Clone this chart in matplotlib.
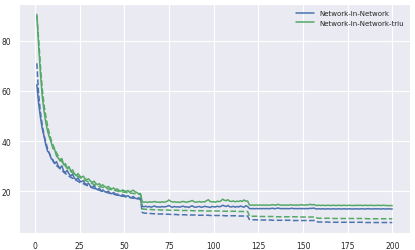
import numpy as np
import matplotlib
matplotlib.use("Agg")
import matplotlib.pyplot as plt
import seaborn as sns

sns.set_style("darkgrid")

epochs = list(range(1, 201))

# test error, Network-In-Network
nin_test = [
    62.5, 55.0, 49.5, 45.0, 42.0, 38.5, 36.0, 35.2, 33.0, 32.5,
    31.0, 31.8, 30.0, 29.2, 30.1, 28.0, 27.5, 28.3, 26.9, 26.0,
    26.8, 25.2, 24.6, 25.3, 24.1, 23.8, 24.2, 23.0, 22.7, 23.1,
    22.0, 21.4, 22.3, 21.0, 20.6, 21.2, 20.1, 20.5, 19.8, 19.6,
    20.0, 19.2, 19.0, 19.5, 18.7, 18.9, 18.4, 18.1, 18.6, 18.3,
    17.9, 18.2, 17.6, 17.4, 17.9, 17.2, 17.0, 17.4, 16.9, 14.0,
    13.8, 14.0, 13.7, 13.9, 13.6, 13.9, 14.1, 13.7, 13.8, 13.6,
    13.9, 13.7, 13.8, 14.0, 14.3, 13.8, 13.6, 13.9, 13.7, 13.8,
    13.6, 13.9, 14.0, 13.7, 13.8, 13.5, 13.9, 14.2, 13.7, 13.6,
    13.8, 13.9, 13.6, 13.7, 14.0, 13.8, 13.7, 13.5, 13.9, 13.8,
    13.7, 14.0, 13.8, 13.9, 14.4, 14.1, 13.9, 14.3, 13.8, 13.7,
    14.0, 13.6, 13.9, 13.7, 14.1, 13.8, 13.6, 14.2, 13.9, 13.1,
    13.0, 13.1, 13.0, 13.1, 13.0, 13.1, 13.0, 13.1, 13.0, 13.1,
    13.0, 13.1, 13.2, 13.0, 13.1, 13.3, 13.1, 13.0, 13.1, 13.0,
    13.1, 13.0, 13.1, 13.2, 13.0, 13.1, 13.0, 13.1, 13.0, 13.1,
    13.0, 13.1, 13.0, 13.2, 13.1, 13.3, 13.0, 12.9, 13.0, 12.9,
    13.0, 12.9, 12.9, 13.0, 12.9, 12.9, 13.0, 12.9, 12.9, 13.0,
    12.9, 12.9, 13.0, 12.9, 12.9, 13.0, 12.9, 12.9, 12.9, 13.0,
    12.9, 12.9, 13.0, 12.9, 12.9, 13.0, 13.0, 12.9, 12.9, 13.0,
    12.9, 13.0, 12.9, 12.9, 13.0, 12.9, 12.9, 13.0, 12.9, 12.9,
]

# train error, Network-In-Network
nin_train = [
    71.0, 58.5, 51.5, 46.5, 42.5, 39.5, 37.0, 35.0, 33.5, 32.0,
    31.0, 30.2, 29.6, 28.9, 28.4, 27.6, 27.0, 26.6, 26.0, 25.5,
    25.2, 24.7, 24.3, 24.0, 23.5, 23.3, 23.0, 22.6, 22.3, 22.0,
    21.7, 21.4, 21.1, 20.9, 20.6, 20.4, 20.1, 19.9, 19.7, 19.5,
    19.3, 19.1, 18.9, 18.8, 18.6, 18.4, 18.3, 18.1, 18.0, 17.9,
    17.7, 17.6, 17.5, 17.3, 17.2, 17.1, 17.0, 16.9, 16.8, 11.5,
    11.3, 11.2, 11.2, 11.1, 11.1, 11.0, 11.0, 11.0, 10.9, 10.9,
    10.9, 10.8, 10.8, 10.8, 10.8, 10.7, 10.7, 10.7, 10.7, 10.6,
    10.6, 10.6, 10.6, 10.6, 10.5, 10.5, 10.5, 10.5, 10.5, 10.5,
    10.4, 10.4, 10.4, 10.4, 10.4, 10.4, 10.4, 10.3, 10.3, 10.3,
    10.3, 10.3, 10.3, 10.3, 10.3, 10.2, 10.2, 10.2, 10.2, 10.2,
    10.2, 10.2, 10.2, 10.1, 10.1, 10.1, 10.1, 10.1, 10.1, 8.7,
    8.6, 8.6, 8.6, 8.6, 8.5, 8.5, 8.5, 8.5, 8.5, 8.5,
    8.5, 8.5, 8.4, 8.4, 8.4, 8.4, 8.4, 8.4, 8.4, 8.4,
    8.4, 8.4, 8.4, 8.3, 8.3, 8.3, 8.3, 8.3, 8.3, 8.3,
    8.3, 8.3, 8.3, 8.3, 8.3, 8.3, 8.3, 7.8, 7.7, 7.7,
    7.7, 7.7, 7.7, 7.7, 7.6, 7.6, 7.6, 7.6, 7.6, 7.6,
    7.6, 7.6, 7.6, 7.6, 7.6, 7.6, 7.6, 7.6, 7.6, 7.6,
    7.6, 7.6, 7.6, 7.6, 7.5, 7.5, 7.5, 7.5, 7.5, 7.5,
    7.5, 7.5, 7.5, 7.5, 7.5, 7.5, 7.5, 7.5, 7.5, 7.5,
]

# test error, Network-In-Network-triu
triu_test = [
    90.5, 78.0, 67.0, 58.0, 52.0, 47.5, 44.0, 41.5, 39.5, 37.0,
    36.5, 34.0, 33.2, 32.0, 33.0, 30.5, 31.0, 29.0, 29.8, 28.0,
    28.5, 27.0, 26.2, 27.0, 26.1, 25.5, 26.0, 25.0, 24.6, 24.9,
    24.0, 23.5, 24.0, 23.1, 22.6, 23.0, 22.2, 22.5, 21.8, 21.5,
    21.9, 21.2, 20.9, 21.3, 20.6, 20.9, 20.3, 20.0, 20.5, 20.2,
    19.8, 20.3, 19.5, 20.1, 20.4, 19.7, 19.5, 18.9, 19.1, 15.8,
    15.6, 15.7, 15.5, 15.8, 15.6, 15.7, 15.9, 15.6, 15.7, 15.5,
    15.8, 15.6, 15.7, 16.0, 16.5, 15.9, 15.7, 15.8, 15.6, 15.7,
    15.5, 15.8, 15.9, 15.7, 15.6, 15.8, 16.0, 16.3, 15.8, 15.6,
    15.7, 15.9, 15.6, 15.8, 15.7, 16.2, 16.6, 15.9, 15.7, 15.8,
    15.6, 16.0, 15.8, 16.1, 16.8, 16.4, 16.2, 16.6, 16.0, 15.9,
    16.1, 15.8, 16.0, 15.9, 16.2, 15.9, 16.5, 16.0, 16.1, 14.5,
    14.4, 14.5, 14.4, 14.5, 14.4, 14.5, 14.4, 14.5, 14.4, 14.5,
    14.4, 14.5, 14.6, 14.5, 14.4, 14.8, 14.5, 14.4, 14.5, 14.4,
    14.5, 14.4, 14.6, 14.5, 14.4, 14.5, 14.4, 14.5, 14.6, 14.5,
    14.4, 14.6, 14.5, 14.8, 14.5, 14.7, 14.4, 14.3, 14.4, 14.3,
    14.4, 14.3, 14.3, 14.4, 14.3, 14.3, 14.4, 14.3, 14.3, 14.4,
    14.3, 14.3, 14.4, 14.3, 14.3, 14.4, 14.3, 14.3, 14.3, 14.4,
    14.3, 14.4, 14.3, 14.3, 14.4, 14.3, 14.3, 14.4, 14.3, 14.3,
    14.3, 14.4, 14.3, 14.3, 14.4, 14.3, 14.3, 14.2, 14.3, 14.2,
]

# train error, Network-In-Network-triu
triu_train = [
    90.0, 80.5, 70.0, 61.0, 54.5, 50.0, 46.0, 43.0, 40.5, 38.5,
    36.8, 35.3, 34.0, 32.9, 31.8, 30.9, 30.0, 29.2, 28.5, 27.9,
    27.3, 26.8, 26.3, 25.9, 25.5, 25.1, 24.7, 24.3, 24.0, 23.6,
    23.3, 23.0, 22.7, 22.4, 22.2, 21.9, 21.7, 21.5, 21.3, 21.1,
    20.9, 20.7, 20.5, 20.4, 20.2, 20.1, 19.9, 19.8, 19.7, 19.6,
    19.5, 19.4, 19.3, 19.2, 19.1, 19.0, 18.9, 18.8, 18.7, 13.0,
    12.8, 12.8, 12.7, 12.7, 12.7, 12.6, 12.6, 12.6, 12.6, 12.5,
    12.5, 12.5, 12.5, 12.5, 12.4, 12.4, 12.4, 12.4, 12.4, 12.4,
    12.3, 12.3, 12.3, 12.3, 12.3, 12.3, 12.3, 12.2, 12.2, 12.2,
    12.2, 12.2, 12.2, 12.2, 12.2, 12.1, 12.1, 12.1, 12.1, 12.1,
    12.1, 12.1, 12.1, 12.1, 12.0, 12.0, 12.0, 12.0, 12.0, 12.0,
    12.0, 12.0, 12.0, 11.9, 11.9, 11.9, 11.9, 11.9, 11.9, 10.1,
    10.0, 10.0, 10.0, 10.0, 10.0, 9.9, 9.9, 9.9, 9.9, 9.9,
    9.9, 9.9, 9.9, 9.9, 9.8, 9.8, 9.8, 9.8, 9.8, 9.8,
    9.8, 9.8, 9.8, 9.8, 9.8, 9.8, 9.8, 9.7, 9.7, 9.7,
    9.7, 9.7, 9.7, 9.7, 9.7, 9.7, 9.7, 9.3, 9.2, 9.2,
    9.2, 9.2, 9.2, 9.2, 9.2, 9.2, 9.1, 9.1, 9.1, 9.1,
    9.1, 9.1, 9.1, 9.1, 9.1, 9.1, 9.1, 9.1, 9.1, 9.1,
    9.1, 9.1, 9.1, 9.1, 9.1, 9.0, 9.0, 9.0, 9.0, 9.0,
    9.0, 9.0, 9.0, 9.0, 9.0, 9.0, 9.0, 9.0, 9.0, 9.0,
]

labels = ["Network-In-Network", "Network-In-Network-triu"]
colors = sns.color_palette("deep")

fig = plt.figure(figsize=(4.15, 2.51), dpi=100)
ax = fig.add_axes([0.046, 0.068, 0.942, 0.912])

ax.plot(epochs, nin_test, color=colors[0], lw=1.1, label=labels[0])
ax.plot(epochs, triu_test, color=colors[2], lw=1.1, label=labels[1])
ax.plot(epochs, nin_train, color=colors[0], lw=1.1, ls="--")
ax.plot(epochs, triu_train, color=colors[2], lw=1.1, ls="--")

ax.set_xticks([0, 25, 50, 75, 100, 125, 150, 175, 200])
ax.set_yticks([20, 40, 60, 80])
ax.tick_params(labelsize=5.5, pad=2)
ax.grid(linewidth=0.8)
ax.legend(fontsize=5, frameon=False, loc="upper right", handlelength=2.5)

fig.savefig("out.png", dpi=100)
